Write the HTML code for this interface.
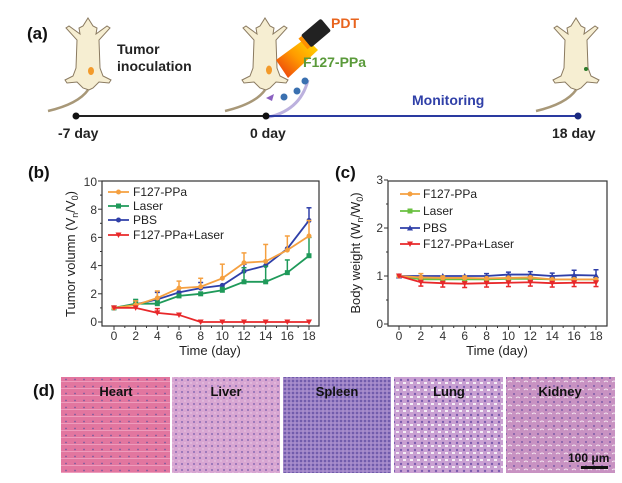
<!DOCTYPE html>
<html><head><meta charset="utf-8"><style>
html,body{margin:0;padding:0;background:#fff;}
svg{display:block;font-family:"Liberation Sans",Arial,sans-serif;}
</style></head><body>
<svg id="s" width="622" height="483" viewBox="0 0 622 483" xmlns="http://www.w3.org/2000/svg">
<defs>
<linearGradient id="beam" x1="1" y1="0" x2="0" y2="1"><stop offset="0" stop-color="#ffe000"/><stop offset="0.5" stop-color="#ff9a00"/><stop offset="1" stop-color="#e83010"/></linearGradient>
<pattern id="pHeart" width="9" height="7" patternUnits="userSpaceOnUse"><rect width="9" height="7" fill="#e2769f"/><rect x="0" y="3" width="9" height="1" fill="#ee9cbc"/><circle cx="3" cy="1.5" r="0.9" fill="#7a5a9e"/></pattern>
<pattern id="pLiver" width="6" height="6" patternUnits="userSpaceOnUse"><rect width="6" height="6" fill="#d8a6d2"/><circle cx="2" cy="2" r="1" fill="#8a6cb4"/><circle cx="5" cy="5" r="0.7" fill="#ecd0e8"/></pattern>
<pattern id="pSpleen" width="4" height="4" patternUnits="userSpaceOnUse"><rect width="4" height="4" fill="#9c82c6"/><circle cx="1" cy="1" r="1" fill="#6550a4"/><circle cx="3" cy="3" r="0.6" fill="#c8a8d8"/></pattern>
<pattern id="pLung" width="7" height="7" patternUnits="userSpaceOnUse"><rect width="7" height="7" fill="#c9a0d2"/><circle cx="2" cy="2" r="1.2" fill="#7c5cae"/><rect x="4" y="4" width="3" height="2" fill="#f4eef6"/></pattern>
<pattern id="pKidney" width="8" height="8" patternUnits="userSpaceOnUse"><rect width="8" height="8" fill="#c892c2"/><circle cx="2" cy="2" r="1" fill="#7c5ca8"/><path d="M4 6 q2 -2 4 0" stroke="#f4e6f0" fill="none" stroke-width="1"/></pattern>
<g id="mouse">
<path d="M25,72 Q15,86 -15,93" stroke="#a89878" stroke-width="2.5" fill="none"/>
<path d="M25,0 L30,8 L34,10 L33,16 L44,8 L47,10 L36,22 L37,50 L40,58 L48,62 L46,65 L36,64 L30,70 L26,72 L20,70 L14,64 L4,65 L2,62 L10,58 L13,50 L14,22 L3,10 L6,8 L17,16 L16,10 L20,8 Z" fill="#f6eed2" stroke="#8a7a60" stroke-width="1"/>
</g>
</defs>

<!-- Panel a -->
<text x="27" y="39" font-size="17" font-weight="bold" fill="#111">(a)</text>
<use href="#mouse" transform="translate(63,18)"/>
<ellipse cx="91" cy="71" rx="3" ry="4" fill="#f39a2a"/>
<text x="117" y="54" font-size="14" font-weight="bold" fill="#222">Tumor</text>
<text x="117" y="71" font-size="14" font-weight="bold" fill="#222">inoculation</text>
<use href="#mouse" transform="translate(240,18)"/>
<ellipse cx="269" cy="70" rx="3" ry="4.5" fill="#f39a2a"/>
<polygon points="276,60 306,38 318,50 288,78" fill="url(#beam)"/>
<g transform="translate(316,33) rotate(-40)"><rect x="-13" y="-8" width="26" height="16" rx="2" fill="#222"/><rect x="-17" y="-7" width="4" height="14" fill="#ff9000"/></g>
<text x="331" y="28" font-size="14" font-weight="bold" fill="#e8641e">PDT</text>
<text x="303" y="67" font-size="14" font-weight="bold" fill="#5a9a3a">F127-PPa</text>
<path d="M264,118 Q300,112 308,80" stroke="#a090d0" stroke-width="3" fill="none" opacity="0.7"/>
<path d="M266,98 l8,-4 l-2,7 z" fill="#8a60c0"/>
<circle cx="284" cy="97" r="3.5" fill="#3a70b0"/><circle cx="297" cy="91" r="3.5" fill="#3a70b0"/><circle cx="305" cy="81" r="3.5" fill="#3a70b0"/>
<use href="#mouse" transform="translate(551,18)"/>
<circle cx="586" cy="69" r="2" fill="#2a7a2a"/>
<line x1="76" y1="116" x2="266" y2="116" stroke="#222" stroke-width="2"/>
<line x1="266" y1="116" x2="578" y2="116" stroke="#2a3aa0" stroke-width="2"/>
<circle cx="76" cy="116" r="3.5" fill="#111"/><circle cx="266" cy="116" r="3.5" fill="#111"/><circle cx="578" cy="116" r="3.5" fill="#1a2a80"/>
<text x="412" y="105" font-size="14" font-weight="bold" fill="#3040a8">Monitoring</text>
<text x="58" y="138" font-size="14" font-weight="bold" fill="#222">-7 day</text>
<text x="250" y="138" font-size="14" font-weight="bold" fill="#222">0 day</text>
<text x="552" y="138" font-size="14" font-weight="bold" fill="#222">18 day</text>

<!-- Panel b -->
<text x="28" y="178" font-size="17" font-weight="bold" fill="#111">(b)</text>
<rect x="102" y="181" width="217" height="145" fill="none" stroke="#333" stroke-width="1.2"/>
<g font-size="12" fill="#333" text-anchor="end">
<text x="97" y="326">0</text><text x="97" y="298">2</text><text x="97" y="270">4</text><text x="97" y="242">6</text><text x="97" y="214">8</text><text x="97" y="186">10</text>
</g>
<g font-size="12" fill="#333" text-anchor="middle">
<text x="114" y="340">0</text><text x="135.7" y="340">2</text><text x="157.3" y="340">4</text><text x="179" y="340">6</text><text x="200.7" y="340">8</text><text x="222.3" y="340">10</text><text x="244" y="340">12</text><text x="265.7" y="340">14</text><text x="287.3" y="340">16</text><text x="309" y="340">18</text>
</g>
<text x="210" y="355" font-size="13" fill="#222" text-anchor="middle">Time (day)</text>
<text transform="translate(75,254) rotate(-90)" font-size="13" fill="#222" text-anchor="middle">Tumor volumn (V<tspan font-size="9" dy="3">n</tspan><tspan dy="-3">/V</tspan><tspan font-size="9" dy="3">0</tspan><tspan dy="-3">)</tspan></text>
<g font-size="12" fill="#222">
<text x="133" y="196">F127-PPa</text><text x="133" y="210">Laser</text><text x="133" y="224">PBS</text><text x="133" y="239">F127-PPa+Laser</text>
</g>

<!-- Panel c -->
<text x="335" y="178" font-size="17" font-weight="bold" fill="#111">(c)</text>
<rect x="388" y="181" width="219" height="145" fill="none" stroke="#333" stroke-width="1.2"/>
<g font-size="12" fill="#333" text-anchor="end">
<text x="383" y="328">0</text><text x="383" y="280">1</text><text x="383" y="232">2</text><text x="383" y="184">3</text>
</g>
<g font-size="12" fill="#333" text-anchor="middle">
<text x="399" y="340">0</text><text x="420.9" y="340">2</text><text x="442.8" y="340">4</text><text x="464.7" y="340">6</text><text x="486.6" y="340">8</text><text x="508.4" y="340">10</text><text x="530.3" y="340">12</text><text x="552.2" y="340">14</text><text x="574.1" y="340">16</text><text x="596" y="340">18</text>
</g>
<text x="497" y="355" font-size="13" fill="#222" text-anchor="middle">Time (day)</text>
<text transform="translate(360,253) rotate(-90)" font-size="13" fill="#222" text-anchor="middle">Body weight (W<tspan font-size="9" dy="3">n</tspan><tspan dy="-3">/W</tspan><tspan font-size="9" dy="3">0</tspan><tspan dy="-3">)</tspan></text>
<g font-size="12" fill="#222">
<text x="423" y="198">F127-PPa</text><text x="423" y="215">Laser</text><text x="423" y="232">PBS</text><text x="423" y="248">F127-PPa+Laser</text>
</g>

<!-- Panel d -->
<text x="33" y="396" font-size="17" font-weight="bold" fill="#111">(d)</text>
<rect x="61" y="377" width="109" height="96" fill="url(#pHeart)"/>
<rect x="172" y="377" width="108" height="96" fill="url(#pLiver)"/>
<rect x="283" y="377" width="108" height="96" fill="url(#pSpleen)"/>
<rect x="394" y="377" width="109" height="96" fill="url(#pLung)"/>
<rect x="506" y="377" width="109" height="96" fill="url(#pKidney)"/>
<g font-size="13" font-weight="bold" fill="#111" text-anchor="middle">
<text x="116" y="396">Heart</text><text x="226" y="396">Liver</text><text x="337" y="396">Spleen</text><text x="449" y="396">Lung</text><text x="560" y="396">Kidney</text>
</g>
<text x="568" y="462" font-size="12" font-weight="bold" fill="#111">100 μm</text>
<rect x="581" y="466" width="27" height="3" fill="#111"/>
<g id="dyn"></g>
</svg>
<script>
var NS="http://www.w3.org/2000/svg",g=document.getElementById('dyn');
function el(t,a){var e=document.createElementNS(NS,t);for(var k in a)e.setAttribute(k,a[k]);g.appendChild(e);return e;}
function ticks(x0,x1,y0,y1,xs,ys,xm,ym){
 xs.forEach(function(x){el('line',{x1:x,y1:y1,x2:x,y2:y1+4,stroke:'#333'});});
 xm.forEach(function(x){el('line',{x1:x,y1:y1,x2:x,y2:y1+2,stroke:'#333'});});
 ys.forEach(function(y){el('line',{x1:x0,y1:y,x2:x0-4,y2:y,stroke:'#333'});});
 ym.forEach(function(y){el('line',{x1:x0,y1:y,x2:x0-2,y2:y,stroke:'#333'});});
}
var d=[0,2,4,6,8,10,12,14,16,18];
function bx(v){return 114+v*195/18;} function by(v){return 322-v*14.1;}
function cx(v){return 399+v*197/18;} function cy(v){return 324-v*48;}
ticks(102,319,181,326,d.map(bx),[0,2,4,6,8,10].map(by),d.map(function(v){return bx(v+1)}).slice(0,9),[1,3,5,7,9].map(by));
ticks(388,607,181,326,d.map(cx),[0,1,2,3].map(cy),d.map(function(v){return cx(v+1)}).slice(0,9),[0.5,1.5,2.5].map(cy));
function series(fx,fy,vals,err,col,mk){
 var pts=vals.map(function(v,i){return fx(d[i])+','+fy(v);}).join(' ');
 vals.forEach(function(v,i){if(err[i]){var x=fx(d[i]),y2=fy(v+err[i]);el('line',{x1:x,y1:fy(v),x2:x,y2:y2,stroke:col,'stroke-width':1.5});el('line',{x1:x-2.5,y1:y2,x2:x+2.5,y2:y2,stroke:col,'stroke-width':1.5});}});
 el('polyline',{points:pts,fill:'none',stroke:col,'stroke-width':1.8});
 vals.forEach(function(v,i){mark(fx(d[i]),fy(v),col,mk);});
}
function mark(x,y,col,mk){
 if(mk=='c')el('circle',{cx:x,cy:y,r:2.5,fill:col});
 else if(mk=='s')el('rect',{x:x-2.5,y:y-2.5,width:5,height:5,fill:col});
 else if(mk=='u')el('polygon',{points:(x-3)+','+(y+2.5)+' '+(x+3)+','+(y+2.5)+' '+x+','+(y-3),fill:col});
 else el('polygon',{points:(x-3)+','+(y-2.5)+' '+(x+3)+','+(y-2.5)+' '+x+','+(y+3),fill:col});
}
var O='#f5a040',G='#1f9a5a',B='#2f3fa8',R='#e8282a';
series(bx,by,[1,1.25,1.6,2.1,2.4,2.6,3.6,4.0,5.2,7.2],[0,0.3,0.5,0,0.4,0,0.5,0,0,0.9],B,'c');
series(bx,by,[1,1.3,1.3,1.85,2.0,2.25,2.85,2.85,3.5,4.7],[0,0.3,0.2,0,0,0.2,1.0,1.1,0.9,1.3],G,'s');
series(bx,by,[1,1.2,1.7,2.4,2.5,3.1,4.2,4.3,5.1,6.1],[0,0.3,0.5,0.5,0.6,1.0,0.7,1.2,1.0,1.1],O,'c');
series(bx,by,[1,1,0.65,0.5,0,0,0,0,0,0],[0,0,0.3,0,0,0,0,0,0,0],R,'v');
series(cx,cy,[1,0.93,0.93,0.93,0.93,0.94,0.94,0.93,0.93,0.93],[0,0,0,0,0,0,0,0,0,0],'#6ac040','s');
series(cx,cy,[1,1.0,1.0,1.0,1.0,1.03,1.03,1.0,1.02,1.01],[0,0,0,0,0.05,0.05,0.06,0.06,0.1,0.12],B,'u');
series(cx,cy,[1,0.97,0.96,0.96,0.95,0.96,0.97,0.93,0.93,0.93],[0,0.08,0.04,0.04,0,0,0,0,0,0],O,'c');
series(cx,cy,[1,0.87,0.85,0.84,0.85,0.86,0.87,0.85,0.86,0.86],[0,-0.08,-0.08,-0.08,-0.08,-0.08,-0.08,-0.08,-0.08,-0.08],R,'v');
[[O,'c',192],[G,'s',206],[B,'c',220],[R,'v',235]].forEach(function(a){el('line',{x1:108,y1:a[2],x2:129,y2:a[2],stroke:a[0],'stroke-width':1.8});mark(118.5,a[2],a[0],a[1]);});
[[O,'c',194],['#6ac040','s',211],[B,'u',228],[R,'v',244]].forEach(function(a){el('line',{x1:400,y1:a[2],x2:420,y2:a[2],stroke:a[0],'stroke-width':1.8});mark(410,a[2],a[0],a[1]);});
</script>
</body></html>
